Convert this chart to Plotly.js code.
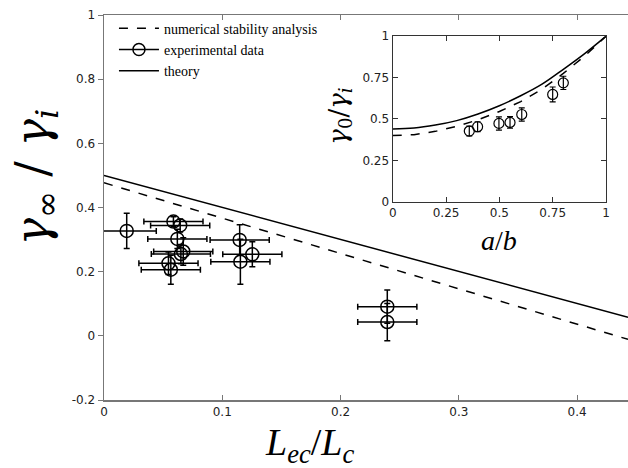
<!DOCTYPE html>
<html>
<head>
<meta charset="utf-8">
<script src="https://cdn.plot.ly/plotly-3.0.1.min.js"></script>
<style>html,body{margin:0;padding:0;background:#fff;}#chart{width:628px;height:468px;}</style>
</head>
<body>
<div id="chart"></div>
<script>
// Main panel data
var lineX = [0, 0.443];
var theoryY = [0.5, 0.058];
var numericalY = [0.477, -0.011];

var expX = [0.0192, 0.0587, 0.0644, 0.062, 0.067, 0.065, 0.0545, 0.0565, 0.1147, 0.1153, 0.1254, 0.2395, 0.2395];
var expY = [0.327, 0.356, 0.344, 0.302, 0.263, 0.255, 0.226, 0.206, 0.299, 0.231, 0.254, 0.091, 0.043];
var expErrY = [0.055, 0.015, 0.02, 0.03, 0.043, 0.03, 0.035, 0.045, 0.047, 0.07, 0.039, 0.052, 0.058];
var expErrX = [0.025, 0.025, 0.025, 0.025, 0.025, 0.025, 0.025, 0.025, 0.025, 0.025, 0.025, 0.025, 0.025];

// Inset data
var insetCurveX = [0, 0.1, 0.2, 0.3, 0.4, 0.5, 0.6, 0.7, 0.8, 0.9, 1];
var insetTheoryY = [0.44, 0.445, 0.463, 0.49, 0.53, 0.58, 0.64, 0.71, 0.80, 0.895, 1.0];
var insetNumY = [0.40, 0.405, 0.425, 0.455, 0.495, 0.545, 0.605, 0.68, 0.775, 0.88, 1.0];
var insetExpX = [0.359, 0.398, 0.498, 0.55, 0.605, 0.75, 0.8];
var insetExpY = [0.427, 0.453, 0.473, 0.479, 0.527, 0.648, 0.718];
var insetErrY = [0.03, 0.03, 0.04, 0.035, 0.04, 0.045, 0.04];

// Tick labels
var mainYTicks = [-0.2, 0, 0.2, 0.4, 0.6, 0.8, 1];
var mainYTickText = ['-0.2', '0', '0.2', '0.4', '0.6', '0.8', '1'];
var mainXTicks = [0, 0.1, 0.2, 0.3, 0.4];
var mainXTickText = ['0', '0.1', '0.2', '0.3', '0.4'];
var insetTicks = [0, 0.25, 0.5, 0.75, 1];
var insetTickText = ['0', '0.25', '0.5', '0.75', '1'];

var serif = 'Liberation Serif, DejaVu Serif, serif';
var mathSerif = 'DejaVu Serif, Liberation Serif, serif';
var sans = 'DejaVu Sans, sans-serif';

var traces = [
  {x: lineX, y: numericalY, mode: 'lines', name: 'numerical stability analysis',
   line: {color: '#000', width: 1.5, dash: 'dash'}},
  {x: [null], y: [null], mode: 'lines+markers', name: 'experimental data',
   line: {color: '#000', width: 1.5},
   marker: {symbol: 'circle-open', size: 12, color: '#000', line: {width: 1.5}}},
  {x: lineX, y: theoryY, mode: 'lines', name: 'theory',
   line: {color: '#000', width: 1.5}},
  {x: expX, y: expY, mode: 'markers', name: 'experimental data', showlegend: false,
   marker: {symbol: 'circle-open', size: 13, color: '#000', line: {width: 1.5}},
   error_y: {type: 'data', array: expErrY, color: '#000', thickness: 1.5, width: 3},
   error_x: {type: 'data', array: expErrX, color: '#000', thickness: 1.5, width: 3}},
  // inset
  {x: insetCurveX, y: insetNumY, xaxis: 'x2', yaxis: 'y2', mode: 'lines', showlegend: false,
   line: {color: '#000', width: 1.5, dash: 'dash'}},
  {x: insetCurveX, y: insetTheoryY, xaxis: 'x2', yaxis: 'y2', mode: 'lines', showlegend: false,
   line: {color: '#000', width: 1.5, shape: 'spline'}},
  {x: insetExpX, y: insetExpY, xaxis: 'x2', yaxis: 'y2', mode: 'markers', showlegend: false,
   marker: {symbol: 'circle-open', size: 10, color: '#000', line: {width: 1.2}},
   error_y: {type: 'data', array: insetErrY, color: '#000', thickness: 1.2, width: 3}}
];

var layout = {
  width: 628, height: 468,
  margin: {l: 104, r: 0, t: 15, b: 68},
  paper_bgcolor: '#fff', plot_bgcolor: '#fff',
  showlegend: true,
  legend: {x: 0.019, y: 1.006, xanchor: 'left', yanchor: 'top', bgcolor: 'rgba(0,0,0,0)',
           font: {family: serif, size: 14, color: '#000'}, tracegroupgap: 0, itemwidth: 40},
  xaxis: {range: [0, 0.443], tickvals: mainXTicks, ticktext: mainXTickText,
          ticks: 'inside', ticklen: 5, tickcolor: '#777', showline: true, linecolor: '#777', linewidth: 1.5,
          mirror: 'ticks', showgrid: false, zeroline: false,
          tickfont: {family: sans, size: 12, color: '#222'}},
  yaxis: {range: [-0.2, 1], tickvals: mainYTicks, ticktext: mainYTickText,
          ticks: 'outside', ticklen: 5, tickcolor: '#777', showline: true, linecolor: '#777', linewidth: 1.5,
          mirror: true, showgrid: false, zeroline: false,
          tickfont: {family: sans, size: 12, color: '#222'}},
  xaxis2: {domain: [0.551, 0.958], anchor: 'y2', range: [0, 1], tickvals: insetTicks, ticktext: insetTickText,
           ticks: 'inside', ticklen: 5, tickcolor: '#333', showline: true, linecolor: '#333', linewidth: 1.2,
           mirror: 'ticks', showgrid: false, zeroline: false,
           tickfont: {family: sans, size: 12, color: '#222'}},
  yaxis2: {domain: [0.515, 0.945], anchor: 'x2', range: [0, 1], tickvals: insetTicks, ticktext: insetTickText,
           ticks: 'inside', ticklen: 5, tickcolor: '#333', showline: true, linecolor: '#333', linewidth: 1.2,
           mirror: 'ticks', showgrid: false, zeroline: false,
           tickfont: {family: sans, size: 12, color: '#222'}},
  annotations: [
    {text: '<i>γ</i><sub>∞</sub> / <i>γ<sub>i</sub></i>', xref: 'paper', yref: 'paper',
     x: -0.13, y: 0.58, xanchor: 'center', yanchor: 'middle', textangle: -90, showarrow: false,
     font: {family: mathSerif, size: 46, color: '#000'}},
    {text: '<i>L<sub>ec</sub></i>/<i>L<sub>c</sub></i>', xref: 'paper', yref: 'paper',
     x: 0.392, y: -0.116, xanchor: 'center', yanchor: 'middle', showarrow: false,
     font: {family: serif, size: 38, color: '#000'}},
    {text: '<i>γ</i><sub>0</sub>/<i>γ<sub>i</sub></i>', xref: 'paper', yref: 'paper',
     x: 0.45, y: 0.738, xanchor: 'center', yanchor: 'middle', textangle: -90, showarrow: false,
     font: {family: mathSerif, size: 26, color: '#000'}},
    {text: '<i>a</i>/<i>b</i>', xref: 'paper', yref: 'paper',
     x: 0.754, y: 0.415, xanchor: 'center', yanchor: 'middle', showarrow: false,
     font: {family: serif, size: 28, color: '#000'}}
  ]
};

Plotly.newPlot('chart', traces, layout, {displayModeBar: false, staticPlot: true});
</script>
</body>
</html>
